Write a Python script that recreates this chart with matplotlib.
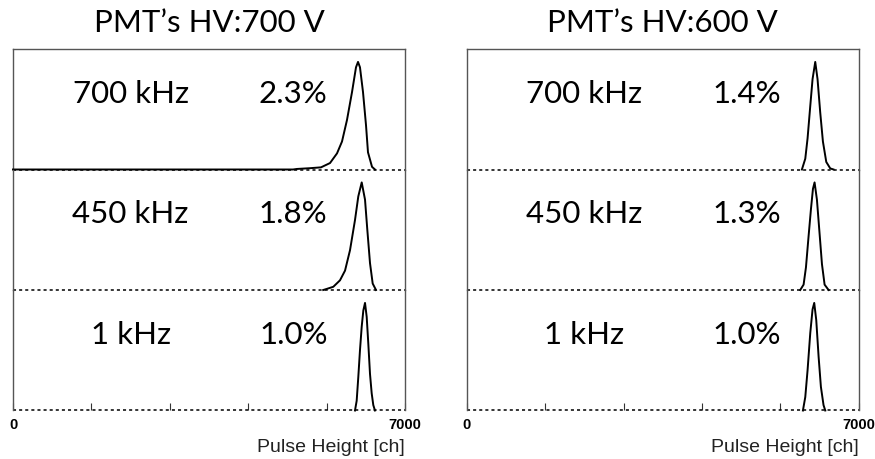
import matplotlib
matplotlib.use("Agg")
import matplotlib.pyplot as plt

# ── data: pulse height spectra, normalised to peak = 1 ──────────────────────
titles = ["PMT\u2019s HV:700 V", "PMT\u2019s HV:600 V"]
rates = ["700 kHz", "450 kHz", "1 kHz"]
resolutions = [["2.3%", "1.8%", "1.0%"], ["1.4%", "1.3%", "1.0%"]]

# HV 700 V
ch_700_700k = [0, 5000, 5070, 5300, 5500, 5661, 5786, 5875, 5964, 6054, 6125,
               6161, 6196, 6250, 6304, 6339, 6411, 6464]
h_700_700k = [0.0, 0.0, 0.005, 0.012, 0.02, 0.06, 0.15, 0.26, 0.46, 0.72, 0.95,
              1.0, 0.95, 0.72, 0.41, 0.16, 0.025, 0.0]

ch_700_450k = [5540, 5602, 5720, 5839, 5929, 6018, 6107, 6166, 6227, 6286,
               6327, 6375, 6423, 6482]
h_700_450k = [0.0, 0.01, 0.03, 0.09, 0.18, 0.37, 0.65, 0.87, 1.0, 0.84,
              0.56, 0.25, 0.06, 0.0]

ch_700_1k = [6107, 6137, 6166, 6196, 6227, 6256, 6286, 6316, 6345, 6375,
             6405, 6434, 6464]
h_700_1k = [0.0, 0.09, 0.31, 0.56, 0.78, 0.93, 1.0, 0.87, 0.62, 0.34,
            0.16, 0.05, 0.0]

# HV 600 V
ch_600_700k = [5986, 6046, 6087, 6135, 6176, 6224, 6265, 6313, 6361, 6421,
               6492, 6551]
h_600_700k = [0.0, 0.10, 0.29, 0.59, 0.84, 1.0, 0.84, 0.53, 0.26, 0.07,
              0.01, 0.0]

ch_600_450k = [5956, 6016, 6058, 6105, 6147, 6183, 6212, 6254, 6296, 6344,
               6391, 6462]
h_600_450k = [0.0, 0.05, 0.21, 0.50, 0.75, 0.94, 1.0, 0.84, 0.56, 0.24,
              0.05, 0.0]

ch_600_1k = [6004, 6046, 6087, 6135, 6176, 6206, 6242, 6284, 6325, 6372, 6403]
h_600_1k = [0.0, 0.125, 0.375, 0.72, 0.94, 1.0, 0.84, 0.5, 0.22, 0.05, 0.0]

spectra = [
    [(ch_700_700k, h_700_700k), (ch_700_450k, h_700_450k), (ch_700_1k, h_700_1k)],
    [(ch_600_700k, h_600_700k), (ch_600_450k, h_600_450k), (ch_600_1k, h_600_1k)],
]

x_max = 7000
tick_pos = [0, 1400, 2800, 4200, 5600, 7000]

# ── layout ──────────────────────────────────────────────────────────────────
W, H = 875, 459
fig = plt.figure(figsize=(W / 100, H / 100), dpi=100)

col_left = [13 / W, 466.7 / W]
col_width = 392 / W
top = 1 - 49 / H
bottom = 1 - 410.5 / H
panel_h = (top - bottom) / 3

label_font = "Lato"
frame_col = "#555555"

for c in range(2):
    x0 = col_left[c]
    for r in range(3):
        y0 = top - (r + 1) * panel_h
        ax = fig.add_axes([x0, y0, col_width, panel_h])
        ax.patch.set_visible(False)
        ch, h = spectra[c][r]
        ax.set_xlim(0, x_max)
        ax.set_ylim(0, 1.12)

        # dotted zero level
        ax.plot([0, x_max], [0, 0], color="black", lw=1.1,
                linestyle=(0, (2, 2)), clip_on=False, zorder=2)
        ax.plot(ch, h, color="black", lw=1.4, clip_on=False, zorder=3)

        for side in ("left", "right"):
            ax.spines[side].set_color(frame_col)
            ax.spines[side].set_linewidth(1.0)
        ax.spines["bottom"].set_visible(False)
        if r == 0:
            ax.spines["top"].set_color(frame_col)
            ax.spines["top"].set_linewidth(1.0)
        else:
            ax.spines["top"].set_visible(False)

        ax.set_yticks([])
        if r == 2:
            ax.set_xticks(tick_pos)
            ax.tick_params(axis="x", direction="in", length=5, width=0.8,
                           color="#333333", labelbottom=False, pad=2)
            ax.text(0, -0.06, "0", transform=ax.get_xaxis_transform(),
                    ha="center", va="top", fontsize=10.5, fontweight="bold",
                    family="Liberation Sans")
            ax.text(x_max, -0.06, "7000", transform=ax.get_xaxis_transform(),
                    ha="center", va="top", fontsize=10.5, fontweight="bold",
                    family="Liberation Sans")
            ax.text(x_max, -0.24, "Pulse Height [ch]",
                    transform=ax.get_xaxis_transform(), ha="right", va="top",
                    fontsize=14, family="Liberation Sans", color="#222222")
        else:
            ax.set_xticks([])

        ax.text(0.30, 0.63, rates[r], transform=ax.transAxes, ha="center",
                va="center", fontsize=22.5, family=label_font)
        ax.text(0.715, 0.63, resolutions[c][r], transform=ax.transAxes,
                ha="center", va="center", fontsize=22.5, family=label_font)

    fig.text(x0 + col_width / 2, 1 - 23 / H, titles[c], ha="center",
             va="center", fontsize=22.5, family=label_font)

fig.savefig("out.png", dpi=100)
